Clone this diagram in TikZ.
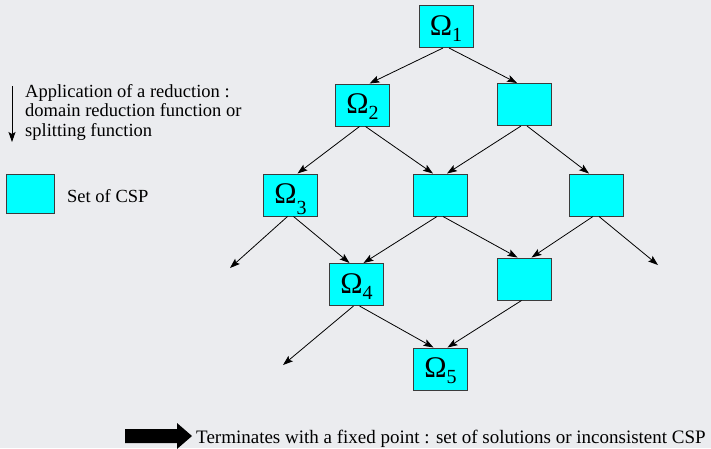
\documentclass[tikz,border=0pt]{standalone}
\usepackage{fontspec}
\setmainfont{Liberation Serif}
\usetikzlibrary{arrows.meta}
\definecolor{bggrey}{RGB}{235,236,239}
\definecolor{cspcyan}{RGB}{0,255,255}
\definecolor{boxline}{RGB}{60,60,60}
% Omega with a lowered index, the optional argument is how far down it goes
\newcommand{\om}[2][6pt]{{\fontsize{30}{30}\selectfont Ω}\raisebox{-#1}{\fontsize{20}{20}\selectfont #2}}
\begin{document}
\begin{tikzpicture}[x=1pt,y=-1pt,
	cspbox/.style={draw=boxline,line width=1pt,fill=cspcyan,minimum width=54pt,minimum height=42pt,inner sep=0pt,text height=20pt,text depth=3pt},
	reduc/.style={line width=0.8pt,-{Stealth[length=10pt,width=7pt,inset=2pt]}},
	legtext/.style={font=\fontsize{18.5}{19.5}\selectfont,inner sep=0pt}]
	\fill[bggrey] (0,0) rectangle (711,448);
	\useasboundingbox (0,0) rectangle (711,448);
	% lattice of CSP
	\node[cspbox] (o1) at (446,26.5) {\om{1}};
	\node[cspbox] (o2) at (362.5,105) {\om{2}};
	\node[cspbox] (r1) at (524,104.5) {};
	\node[cspbox] (o3) at (290.5,195) {\om[11pt]{3}};
	\node[cspbox] (m2) at (440,195) {};
	\node[cspbox] (r2) at (596,195) {};
	\node[cspbox] (o4) at (356.5,284.5) {\om{4}};
	\node[cspbox] (r3) at (524.5,279) {};
	\node[cspbox] (o5) at (440.5,369) {\om{5}};
	\coordinate (e3) at (230,268);
	\coordinate (e4) at (283,365);
	\coordinate (er) at (658,265);
	% reductions, \s = 1 goes left, -1 goes right
	\foreach \a/\b/\s in {o1/o2/1,o1/r1/-1,o2/o3/1,o2/m2/-1,r1/m2/1,r1/r2/-1,
		o3/o4/-1,m2/o4/1,m2/r3/-1,r2/r3/1,o4/o5/-1,r3/o5/1}
		\draw[reduc] ([xshift={-3pt*\s}]\a.south) -- ([xshift={7pt*\s}]\b.north);
	\draw[reduc] ([xshift=-3pt]o3.south) -- (e3);
	\draw[reduc] ([xshift=-3pt]o4.south) -- (e4);
	\draw[reduc] ([xshift=3pt]r2.south) -- (er);
	% legend
	\coordinate (la) at (12,86);
	\coordinate (lb) at (12,142);
	\draw[reduc] (la) -- (lb);
	\node[legtext,anchor=north west,align=left] (lt) at (25,84) {Application of a reduction :\\domain reduction function or\\splitting function};
	\node[cspbox,minimum width=48pt,minimum height=39pt] (lg) at (30.5,193.5) {};
	\node[legtext,anchor=west] (ls) at (67,196) {Set of CSP};
	\fill (125,429) -- (177,429) -- (177,423) -- (192,436) -- (177,449) -- (177,443) -- (125,443) -- cycle;
	\node[legtext,font=\fontsize{19}{19}\selectfont,anchor=base west] (lf) at (196,443) {Terminates with a fixed point : set of solutions or inconsistent CSP};
\end{tikzpicture}
\end{document}
